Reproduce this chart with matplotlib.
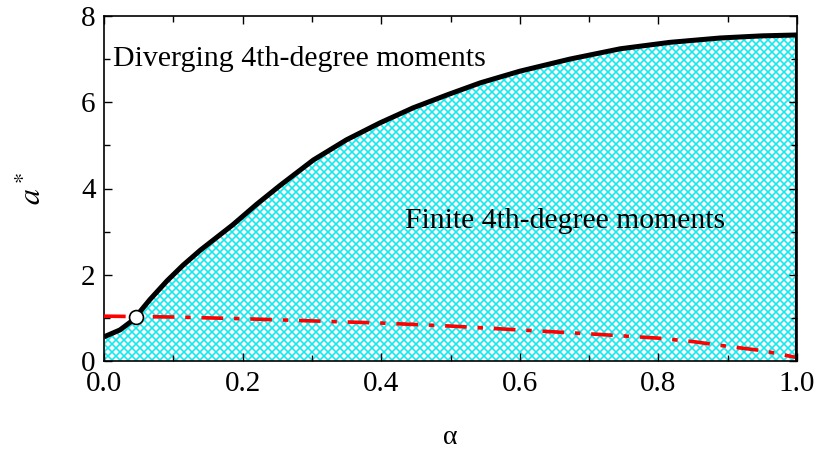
import numpy as np
import matplotlib
matplotlib.use("Agg")
import matplotlib.pyplot as plt
from matplotlib.ticker import MultipleLocator, FormatStrFormatter

DPI = 120
S = 100 / DPI  # convert sizes tuned at 100 dpi

plt.rcParams['font.family'] = ['Liberation Serif', 'DejaVu Serif']
plt.rcParams['mathtext.fontset'] = 'stix'
plt.rcParams['hatch.color'] = '#19e8ec'
plt.rcParams['hatch.linewidth'] = 1.2 * S

# boundary curve a*(alpha)
alpha_b = [0.0, 0.023, 0.042, 0.066, 0.091, 0.114, 0.139, 0.186, 0.22, 0.254, 0.302, 0.35,
           0.398, 0.446, 0.495, 0.543, 0.60, 0.672, 0.745, 0.817, 0.889, 0.95, 1.0]
a_b = [0.56, 0.72, 0.95, 1.42, 1.86, 2.22, 2.57, 3.16, 3.63, 4.07, 4.66, 5.13,
       5.52, 5.87, 6.17, 6.45, 6.72, 7.00, 7.24, 7.39, 7.49, 7.54, 7.56]

# dash-dot curve
alpha_r = [0.0, 0.1, 0.2, 0.3, 0.4, 0.5, 0.6, 0.7, 0.8, 0.85, 0.9, 0.95, 1.0]
a_r = [1.04, 1.02, 0.98, 0.93, 0.88, 0.81, 0.72, 0.63, 0.53, 0.45, 0.34, 0.24, 0.08]

# marked point
pt_alpha = [0.046]
pt_a = [1.02]

fig = plt.figure(figsize=(819 / DPI, 454 / DPI), dpi=DPI)
ax = fig.add_axes([104/819, 1-361/454, 693/819, 345/454])

ax.fill_between(alpha_b, 0, a_b, facecolor='white', hatch='xxxxx', edgecolor='#19e8ec', linewidth=0)
ax.plot(alpha_b, a_b, color='black', lw=3.6 * S, solid_capstyle='butt', solid_joinstyle='round', zorder=4)
ax.plot([alpha_b[-1], alpha_b[-1]], [0, a_b[-1]], color='black', lw=3.6 * S, zorder=4)
ax.plot(alpha_r, a_r, color='red', lw=2.6 * S, ls=(0, (6, 3, 1.5, 3)), zorder=3)
ax.plot(pt_alpha, pt_a, 'o', ms=10 * S, mfc='white', mec='black', mew=1.2 * S, zorder=5)

ax.set_xlim(0, 1.0)
ax.set_ylim(0, 8)
ax.xaxis.set_major_locator(MultipleLocator(0.2))
ax.xaxis.set_minor_locator(MultipleLocator(0.1))
ax.yaxis.set_major_locator(MultipleLocator(2))
ax.yaxis.set_minor_locator(MultipleLocator(1))
ax.tick_params(which='both', direction='in', top=True, right=True, labelsize=21 * S, width=1 * S)
ax.tick_params(axis='x', which='both', pad=7 * S)
ax.tick_params(axis='y', which='both', pad=6 * S)
ax.tick_params(which='major', length=6 * S)
ax.tick_params(which='minor', length=4 * S)
ax.xaxis.set_major_formatter(FormatStrFormatter('%.1f'))
for s in ax.spines.values():
    s.set_linewidth(1.2 * S)

ax.set_xlabel('α', fontsize=20 * S, labelpad=20 * S)
ax.set_ylabel(r'$a^*$', fontsize=23 * S, labelpad=24 * S)

ax.text(0.013, 7.0, 'Diverging 4th-degree moments', fontsize=21.5 * S, va='center', ha='left')
ax.text(0.435, 3.25, 'Finite 4th-degree moments', fontsize=21.3 * S, va='center', ha='left')

fig.savefig('out.png', dpi=DPI)
